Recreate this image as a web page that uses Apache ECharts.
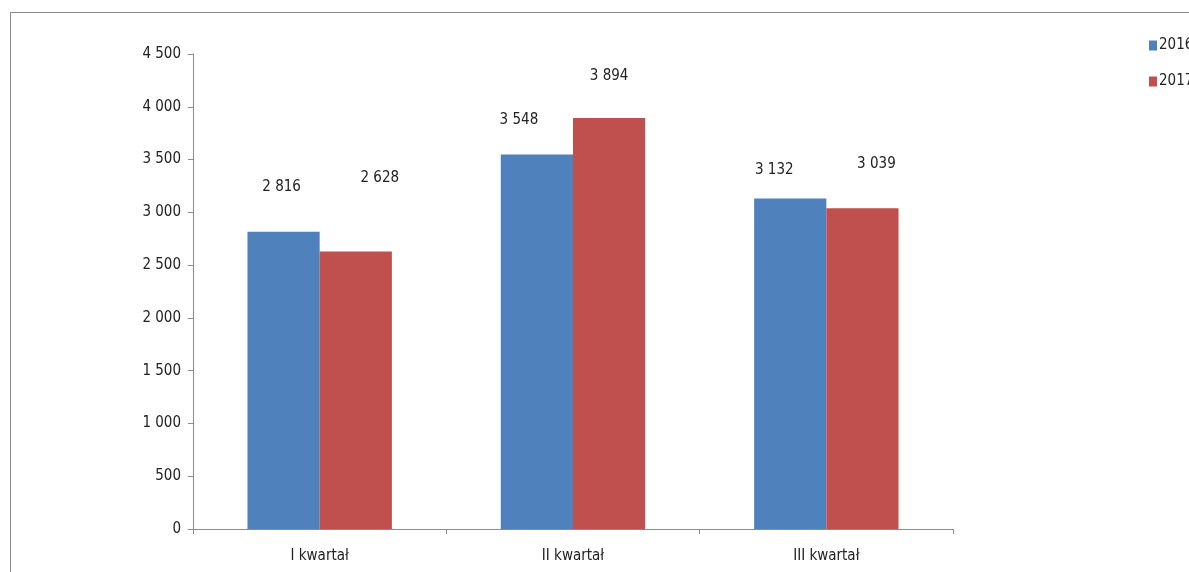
<!DOCTYPE html>
<html>
<head>
<meta charset="utf-8">
<script src="https://cdn.jsdelivr.net/npm/echarts@6/dist/echarts.min.js"></script>
<style>
  html, body { margin: 0; padding: 0; background: #fff; overflow: hidden; }
  #frame { position: absolute; left: 10px; top: 12px; right: 0; bottom: 0; border-left: 1px solid #8a8a8a; border-top: 1px solid #8a8a8a; }
  #chart { position: absolute; left: 0; top: 0; width: 1189px; height: 572px; }
</style>
</head>
<body>
<div id="frame"></div>
<div id="chart"></div>
<script>
const categories = ['I kwartał', 'II kwartał', 'III kwartał'];
const years = ['2016', '2017'];
const values2016 = [2816, 3548, 3132];
const values2017 = [2628, 3894, 3039];

// label nudges [dx, dy] to match where the original sits its numbers
const nudge2016 = [[-2, -37], [-18, -27], [-16, -21]];
const nudge2017 = [[24, -66], [0, -34], [14, -37]];

const FONT = "'Liberation Sans Narrow', 'DejaVu Sans Condensed', sans-serif";
const fmt = v => String(v).replace(/\B(?=(\d{3})+(?!\d))/g, ' ');

function withLabels(vals, nudges) {
  return vals.map((v, i) => ({
    value: v,
    label: { offset: nudges[i] }
  }));
}

const chart = echarts.init(document.getElementById('chart'));
const labelOption = {
  show: true,
  position: 'top',
  distance: 0,
  color: '#222',
  fontFamily: FONT,
  fontSize: 15,
  formatter: p => fmt(p.value)
};

chart.setOption({
  animation: false,
  grid: { left: 193, right: 236, top: 54, bottom: 43 },
  legend: {
    data: years,
    orient: 'vertical',
    left: 1149,
    top: 38,
    padding: 0,
    itemWidth: 8,
    itemHeight: 10,
    itemGap: 21,
    icon: 'rect',
    textStyle: { fontFamily: FONT, fontSize: 15, color: '#222', width: 40, overflow: 'none', padding: [0, 0, 0, -3] }
  },
  xAxis: {
    type: 'category',
    data: categories,
    axisLine: { lineStyle: { color: '#8c8c8c' } },
    axisTick: { show: true, length: 5, lineStyle: { color: '#8c8c8c' } },
    axisLabel: { color: '#222', fontFamily: FONT, fontSize: 15, margin: 20 }
  },
  yAxis: {
    type: 'value',
    min: 0,
    max: 4500,
    interval: 500,
    splitLine: { show: false },
    axisLine: { show: true, lineStyle: { color: '#8c8c8c' } },
    axisTick: { show: true, length: 5, lineStyle: { color: '#8c8c8c' } },
    axisLabel: { color: '#222', fontFamily: FONT, fontSize: 15, margin: 12, formatter: fmt }
  },
  series: [
    {
      name: '2016',
      type: 'bar',
      barGap: 0,
      barCategoryGap: '43%',
      itemStyle: { color: '#4f81bd' },
      label: labelOption,
      data: withLabels(values2016, nudge2016)
    },
    {
      name: '2017',
      type: 'bar',
      itemStyle: { color: '#c0504d' },
      label: labelOption,
      data: withLabels(values2017, nudge2017)
    }
  ]
});
</script>
</body>
</html>
